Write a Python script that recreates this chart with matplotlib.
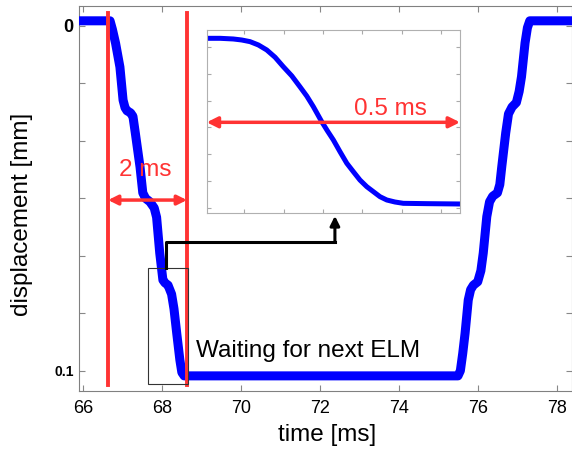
import matplotlib.pyplot as plt
import numpy as np
from matplotlib.patches import Rectangle

plt.rcParams['font.family'] = ['Liberation Sans', 'DejaVu Sans']

# main trace: time [ms] and displacement [mm] (axis is inverted)
time_ms = [65.9, 66.68, 66.74, 66.82, 66.93, 67.01, 67.06, 67.11, 67.20, 67.26, 67.32,
           67.44, 67.51, 67.58, 67.69, 67.80, 67.86, 67.94, 68.02, 68.07, 68.15, 68.24,
           68.30, 68.37, 68.45, 68.50, 68.56,
           75.50, 75.56, 75.62, 75.68, 75.76, 75.82, 75.89, 76.00, 76.08, 76.14, 76.23,
           76.30, 76.38, 76.50, 76.56, 76.61, 76.71, 76.78, 76.87, 76.98, 77.05, 77.11,
           77.20, 77.26, 77.32, 78.5]
disp_mm = [-0.0015, -0.0015, 0.001, 0.005, 0.0119, 0.0215, 0.0237, 0.0246, 0.0252, 0.0262, 0.031,
           0.0409, 0.0484, 0.0500, 0.0510, 0.0528, 0.0555, 0.0659, 0.0737, 0.0745, 0.0752, 0.0778,
           0.082, 0.0891, 0.0969, 0.1005, 0.1015,
           0.1015, 0.100, 0.095, 0.0891, 0.0795, 0.0765, 0.0752, 0.0742, 0.071, 0.0659, 0.0553,
           0.0510, 0.0494, 0.0484, 0.046, 0.0408, 0.031, 0.0255, 0.0235, 0.0222, 0.019, 0.0147,
           0.0049, 0.0005, -0.0015, -0.0015]

# zoom on one ELM step (inset), time in ms, normalised displacement
zoom_t = [0, 0.0265, 0.0525, 0.069, 0.0855, 0.102, 0.1185, 0.135, 0.151, 0.168, 0.184,
          0.1975, 0.2105, 0.227, 0.238, 0.25, 0.263, 0.2765, 0.2895, 0.3025, 0.316,
          0.329, 0.342, 0.3555, 0.3715, 0.388, 0.4345, 0.5]
zoom_d = [0.004, 0.004, 0.008, 0.014, 0.024, 0.044, 0.074, 0.118, 0.174, 0.230, 0.295,
          0.351, 0.415, 0.505, 0.559, 0.615, 0.685, 0.755, 0.806, 0.856, 0.896,
          0.926, 0.956, 0.976, 0.988, 0.996, 0.998, 1.0]

elm_window = [66.63, 68.63]
xticks = [66, 68, 70, 72, 74, 76, 78]
ylabels = ['0', '', '', '', '', '', '0.1']

red = '#ff3333'
blue = '#0000ff'

fig = plt.figure(figsize=(5.72, 4.5), dpi=100)
ax = fig.add_axes([0.1386, 0.1318, 0.8614, 0.8549])

ax.plot(time_ms, disp_mm, color=blue, lw=6.5, solid_joinstyle='round', zorder=3)
ax.set_xlim(65.9, 78.39)
ax.set_ylim(0.1058, -0.0058)

for x in elm_window:
    ax.plot([x, x], [-0.0037, 0.1041], color=red, lw=2.8, zorder=4)

ax.annotate('', xy=(elm_window[0], 0.0505), xytext=(elm_window[1], 0.0505),
            arrowprops=dict(arrowstyle='<|-|>', color=red, lw=2.5, mutation_scale=14,
                            shrinkA=0, shrinkB=0), zorder=5)
ax.text(67.56, 0.0418, '2 ms', color=red, fontsize=17.5, ha='center', va='center')

ax.add_patch(Rectangle((67.63, 0.0701), 1.02, 0.0338, fill=False, ec='#333333', lw=0.8, zorder=5))
ax.plot([68.11, 68.11, 72.38], [0.0701, 0.0626, 0.0626], color='black', lw=2.2, zorder=5)
ax.annotate('', xy=(72.38, 0.0551), xytext=(72.38, 0.0626),
            arrowprops=dict(arrowstyle='-|>', color='black', lw=2.2, mutation_scale=14,
                            shrinkA=0, shrinkB=0), zorder=5)

ax.text(68.87, 0.0959, 'Waiting for next ELM', fontsize=17.5, va='baseline')

ax.set_xticks(xticks)
ax.set_xticklabels([str(v) for v in xticks], fontsize=13)
ax.set_yticks(np.linspace(0, 0.1, 7))
ax.set_yticklabels(ylabels)
yl = ax.get_yticklabels()
yl[0].set_fontsize(13)
yl[0].set_fontweight('bold')
yl[-1].set_fontsize(10)
yl[-1].set_fontweight('bold')
ax.tick_params(direction='in', top=True, right=True, length=4, color='#888888')
ax.tick_params(axis='x', pad=7)
ax.tick_params(axis='y', pad=4)
for s in ax.spines.values():
    s.set_color('#808080')

fig.text(21.7 / 572, 1 - 214.5 / 450, 'displacement [mm]', rotation=90,
         ha='center', va='center', fontsize=17.5)
fig.text(327 / 572, 1 - 435 / 450, 'time [ms]', ha='center', va='center', fontsize=17.5)

# inset
axin = fig.add_axes([206.7 / 572, 1 - 213.3 / 450, 253.3 / 572, 183.3 / 450])
axin.plot(zoom_t, zoom_d, color=blue, lw=3.6, solid_joinstyle='round')
axin.set_xlim(0, 0.5)
axin.set_ylim(1.056, -0.046)
axin.set_xticks(0.0742 + 0.0777 * np.arange(6))
axin.set_yticks(0.0577 + 0.1606 * np.arange(7))
axin.set_xticklabels([])
axin.set_yticklabels([])
axin.tick_params(direction='in', top=True, right=True, length=3, color='#aaaaaa')
for s in axin.spines.values():
    s.set_color('#b0b0b0')
axin.annotate('', xy=(0, 0.509), xytext=(0.5, 0.509),
              arrowprops=dict(arrowstyle='<|-|>', color=red, lw=2.5, mutation_scale=16,
                              shrinkA=0, shrinkB=0), annotation_clip=False)
axin.text(0.3624, 0.43, '0.5 ms', color=red, fontsize=17.5, ha='center', va='center')

fig.savefig('out.png', dpi=100)
